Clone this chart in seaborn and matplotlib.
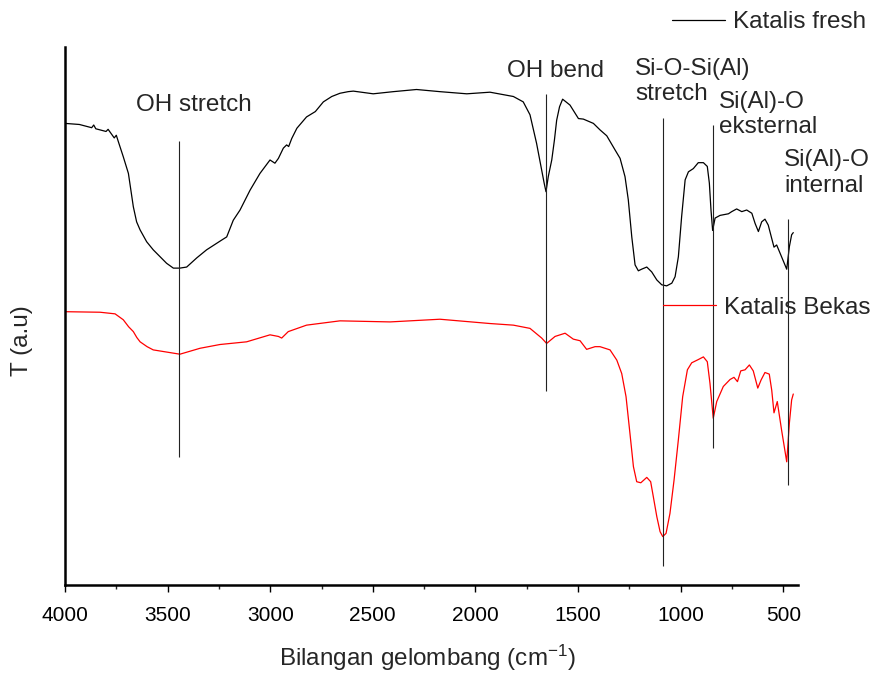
import matplotlib
matplotlib.use("Agg")
import matplotlib.pyplot as plt
from matplotlib.ticker import MultipleLocator
import pandas as pd
import seaborn as sns

# ---- data ----
fresh_wn = [4000, 3930, 3870, 3860, 3850, 3800, 3790, 3760, 3750, 3740, 3716, 3691,
            3667, 3651, 3634, 3602, 3570, 3505, 3472, 3440, 3407, 3358, 3310, 3237,
            3212, 3180, 3147, 3098, 3050, 3001, 2977, 2960, 2936, 2920, 2910, 2895,
            2870, 2823, 2780, 2741, 2700, 2660, 2620, 2595, 2498, 2400, 2287, 2173,
            2042, 1929, 1815, 1767, 1734, 1702, 1677, 1665, 1656, 1645, 1628, 1615,
            1604, 1590, 1575, 1539, 1498, 1474, 1425, 1393, 1360, 1320, 1295, 1271,
            1255, 1238, 1222, 1206, 1190, 1165, 1141, 1116, 1092, 1068, 1043, 1027,
            1011, 995, 978, 962, 938, 914, 889, 870, 860, 852, 844, 832, 808, 767,
            751, 727, 702, 678, 653, 637, 621, 605, 589, 573, 556, 545, 532, 508,
            483, 470, 459, 451]
fresh_t = [85.8, 85.6, 85.0, 85.5, 84.8, 84.3, 84.7, 83.1, 83.6, 82.4, 79.6, 76.5,
           70.3, 67.5, 66.0, 63.8, 62.3, 59.8, 58.9, 58.9, 59.1, 60.8, 62.3, 64.1,
           64.7, 67.8, 69.7, 73.4, 76.5, 79.0, 78.4, 79.3, 81.2, 81.8, 81.5, 83.0,
           84.9, 87.0, 88.0, 89.8, 90.8, 91.4, 91.7, 91.8, 91.3, 91.7, 92.1, 91.7,
           91.3, 91.6, 90.8, 89.8, 87.4, 82.1, 77.1, 74.7, 73.1, 75.9, 79.0, 82.7,
           86.4, 88.9, 90.3, 89.2, 86.7, 86.6, 85.8, 84.6, 83.5, 80.9, 79.3, 75.9,
           71.6, 64.7, 59.5, 58.4, 58.7, 59.1, 58.2, 56.7, 55.8, 55.6, 56.1, 57.3,
           61.0, 68.5, 75.3, 76.8, 77.4, 78.5, 78.5, 77.8, 74.7, 69.7, 65.9, 68.2,
           68.7, 69.0, 69.4, 69.9, 69.4, 69.7, 69.1, 67.2, 65.7, 67.5, 68.0, 66.9,
           64.4, 62.8, 63.2, 61.0, 58.7, 62.9, 65.1, 65.5]

bekas_wn = [4000, 3829, 3756, 3716, 3690, 3667, 3650, 3634, 3600, 3570, 3440, 3342,
            3245, 3115, 3001, 2960, 2944, 2912, 2823, 2660, 2416, 2173, 1929, 1815,
            1734, 1677, 1653, 1612, 1563, 1523, 1490, 1458, 1417, 1393, 1344, 1311,
            1287, 1266, 1247, 1230, 1214, 1194, 1165, 1146, 1133, 1116, 1100, 1087,
            1071, 1052, 1032, 1011, 990, 967, 946, 914, 889, 870, 857, 841, 824, 792,
            759, 740, 723, 707, 686, 665, 646, 624, 608, 589, 568, 556, 545, 529,
            508, 483, 470, 459, 451]
bekas_t = [50.8, 50.7, 50.4, 49.3, 48.0, 47.1, 46.0, 45.2, 44.3, 43.7, 42.9, 44.0,
           44.7, 45.2, 46.5, 46.2, 45.9, 47.1, 48.3, 49.1, 48.9, 49.4, 48.6, 48.3,
           47.7, 45.9, 44.9, 46.2, 46.8, 45.7, 45.4, 43.8, 44.3, 44.3, 43.7, 41.8,
           39.3, 35.0, 28.2, 22.0, 19.2, 19.0, 20.0, 19.2, 16.4, 12.7, 9.9, 9.0,
           9.6, 13.3, 19.5, 27.0, 35.0, 40.0, 41.3, 41.9, 42.4, 41.5, 37.5, 31.0,
           34.1, 36.9, 38.2, 38.6, 37.8, 39.8, 40.0, 40.9, 39.8, 36.6, 38.1, 39.5,
           39.2, 36.2, 32.0, 34.1, 28.8, 22.9, 30.1, 34.4, 35.5]

band_wn = [3443, 1656, 1086, 844, 479]
band_top = [82.5, 91.3, 86.8, 85.5, 68.0]
band_bottom = [23.8, 36.1, 3.5, 25.5, 18.6]
band_labels = ["OH stretch", "OH bend", "Si-O-Si(Al)\nstretch",
               "Si(Al)-O\neksternal", "Si(Al)-O\ninternal"]

series_names = ["Katalis fresh", "Katalis Bekas"]
x_ticks = [4000, 3500, 3000, 2500, 2000, 1500, 1000, 500]

# ---- layout ----
label_pos = [(3654, 89.2), (1846, 95.5), (1222, 93.6), (814, 87.5), (496, 76.6)]

sns.set_style("white")
plt.rcParams["font.family"] = ["Liberation Sans", "DejaVu Sans"]
plt.rcParams["mathtext.fontset"] = "custom"
plt.rcParams["mathtext.rm"] = "Liberation Sans"
plt.rcParams["mathtext.it"] = "Liberation Sans:italic"

W, H = 884, 673
fig = plt.figure(figsize=(W / 100, H / 100), dpi=100)
ax = fig.add_axes([65 / W, (H - 585) / H, (798 - 65) / W, (585 - 47) / H])

df_f = pd.DataFrame({"wn": fresh_wn, "T": fresh_t})
df_b = pd.DataFrame({"wn": bekas_wn, "T": bekas_t})
sns.lineplot(data=df_f, x="wn", y="T", ax=ax, color="black", lw=0.9,
             estimator=None, sort=False, legend=False)
sns.lineplot(data=df_b, x="wn", y="T", ax=ax, color="#ff0000", lw=0.9,
             estimator=None, sort=False, legend=False)

ax.vlines(band_wn, band_bottom, band_top, colors="#222222", lw=0.8)

for txt, (x, y) in zip(band_labels, label_pos):
    ax.text(x, y, txt, fontsize=17.5, ha="left", va="center", linespacing=1.2)

ax.set_xlim(4000, 428)
ax.set_ylim(0, 100)
ax.set_xticks(x_ticks)
ax.xaxis.set_minor_locator(MultipleLocator(250))
ax.set_yticks([])
ax.tick_params(axis="x", which="major", direction="out", length=5, width=1,
               labelsize=15, pad=10, bottom=True, colors="black")
ax.tick_params(axis="x", which="minor", direction="out", length=3, width=1, bottom=True)
for s in ["top", "right"]:
    ax.spines[s].set_visible(False)
for s in ["left", "bottom"]:
    ax.spines[s].set_linewidth(1.8)
    ax.spines[s].set_color("black")

ax.set_xlabel("Bilangan gelombang (cm$^{-1}$)", fontsize=17.5)
ax.set_ylabel("T (a.u)", fontsize=17.5)
ax.xaxis.set_label_coords(0.495, -0.107)
ax.yaxis.set_label_coords(-0.044, 0.455)

lines = ax.get_lines()
leg1 = ax.legend([lines[0]], [series_names[0]], loc="center left",
                 bbox_to_anchor=(672 / W, 1 - 22 / H), bbox_transform=fig.transFigure,
                 frameon=False, fontsize=17.5, handlelength=2.2, handletextpad=0.3,
                 borderpad=0, borderaxespad=0)
ax.add_artist(leg1)
ax.legend([lines[1]], [series_names[1]], loc="center left",
          bbox_to_anchor=(663 / W, 1 - 308 / H), bbox_transform=fig.transFigure,
          frameon=False, fontsize=17.5, handlelength=2.2, handletextpad=0.3,
          borderpad=0, borderaxespad=0)

fig.savefig("out.png", dpi=100)
